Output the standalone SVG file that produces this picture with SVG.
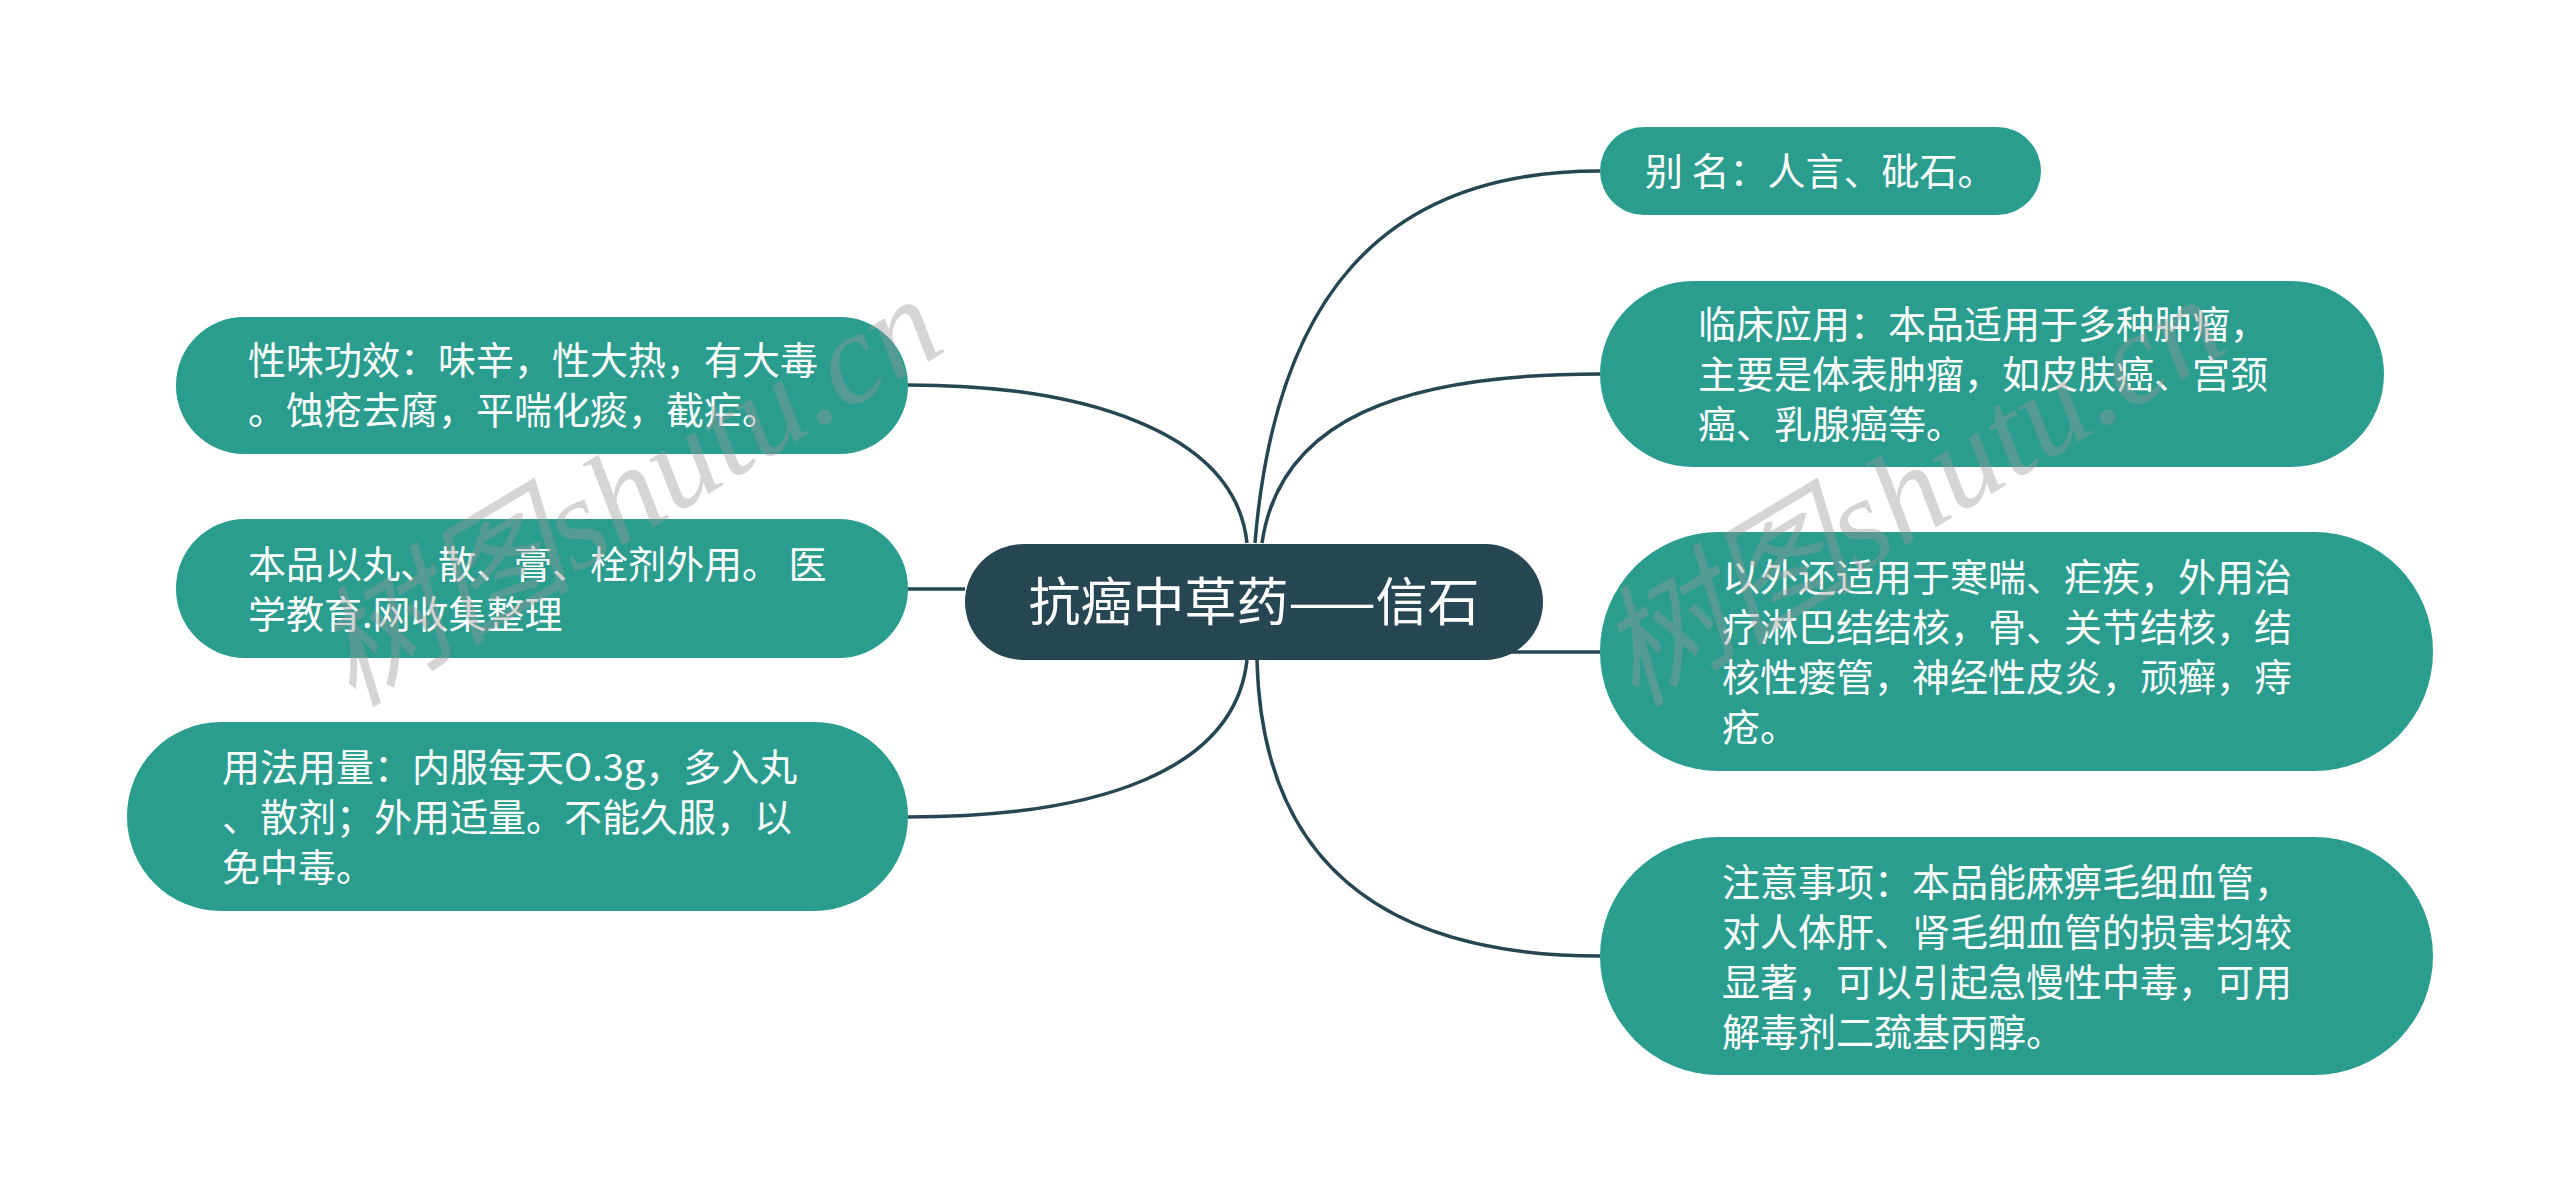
<svg xmlns="http://www.w3.org/2000/svg" width="2560" height="1204" viewBox="0 0 2560 1204">
<style>
.edge{fill:none;stroke:#264653;stroke-width:3.5}
.sub{fill:#2a9d8f}
.root{fill:#264653}
.t{font-family:"Noto Sans CJK SC","Noto Sans",sans-serif;font-size:38px;fill:#ffffff}
.rt{font-family:"Noto Sans CJK SC","Noto Sans",sans-serif;font-size:52px;fill:#ffffff}
.wm{font-family:"Liberation Serif","Noto Sans CJK SC",serif;font-style:italic;font-size:130px;fill:#999999;opacity:0.4}
</style>
<rect width="2560" height="1204" fill="#ffffff"/>
<g id="connectors">
<path class="edge" d="M1255,543 C1275,300 1380,171 1600,171"/>
<path class="edge" d="M1262,543 C1280,420 1400,374 1600,374"/>
<path class="edge" d="M1500,652 L1600,652"/>
<path class="edge" d="M1257,660 C1262,860 1380,956 1600,956"/>
<path class="edge" d="M908,385 C1080,385 1235,430 1247,543"/>
<path class="edge" d="M908,589 L965,589"/>
<path class="edge" d="M1247,660 C1235,770 1100,817 908,817"/>
</g>
<g id="root">
<rect class="root" x="965" y="544" width="578" height="116" rx="58"/>
<text class="rt" x="1254" y="621" text-anchor="middle">抗癌中草药——信石</text>
</g>
<g id="n1">
<rect class="sub" x="1600" y="127" width="441" height="88" rx="44"/>
<text class="t" x="1645" y="185">别 名：人言、砒石。</text>
</g>
<g id="n2">
<rect class="sub" x="1600" y="281" width="784" height="186" rx="93"/>
<text class="t" x="1698" y="338">临床应用：本品适用于多种肿瘤，</text>
<text class="t" x="1698" y="388">主要是体表肿瘤，如皮肤癌、宫颈</text>
<text class="t" x="1698" y="438">癌、乳腺癌等。</text>
</g>
<g id="n3">
<rect class="sub" x="1600" y="532" width="833" height="239" rx="119"/>
<text class="t" x="1722" y="591">以外还适用于寒喘、疟疾，外用治</text>
<text class="t" x="1722" y="641">疗淋巴结结核，骨、关节结核，结</text>
<text class="t" x="1722" y="691">核性瘘管，神经性皮炎，顽癣，痔</text>
<text class="t" x="1722" y="741">疮。</text>
</g>
<g id="n4">
<rect class="sub" x="1600" y="837" width="833" height="238" rx="119"/>
<text class="t" x="1722" y="896">注意事项：本品能麻痹毛细血管，</text>
<text class="t" x="1722" y="946">对人体肝、肾毛细血管的损害均较</text>
<text class="t" x="1722" y="996">显著，可以引起急慢性中毒，可用</text>
<text class="t" x="1722" y="1046">解毒剂二巯基丙醇。</text>
</g>
<g id="n5">
<rect class="sub" x="176" y="317" width="732" height="137" rx="68"/>
<text class="t" x="248" y="374">性味功效：味辛，性大热，有大毒</text>
<text class="t" x="248" y="424">。蚀疮去腐，平喘化痰，截疟。</text>
</g>
<g id="n6">
<rect class="sub" x="176" y="519" width="732" height="139" rx="69"/>
<text class="t" x="248" y="578">本品以丸、散、膏、栓剂外用。 医</text>
<text class="t" x="248" y="628">学教育.网收集整理</text>
</g>
<g id="n7">
<rect class="sub" x="127" y="722" width="781" height="189" rx="94"/>
<text class="t" x="222" y="781">用法用量：内服每天O.3g，多入丸</text>
<text class="t" x="222" y="831">、散剂；外用适量。不能久服，以</text>
<text class="t" x="222" y="881">免中毒。</text>
</g>
<g id="watermark">
<text class="wm" x="352" y="708" transform="rotate(-31 352 708)">树图shutu.cn</text>
<text class="wm" x="1635" y="708" transform="rotate(-31 1635 708)">树图shutu.cn</text>
</g>
</svg>
